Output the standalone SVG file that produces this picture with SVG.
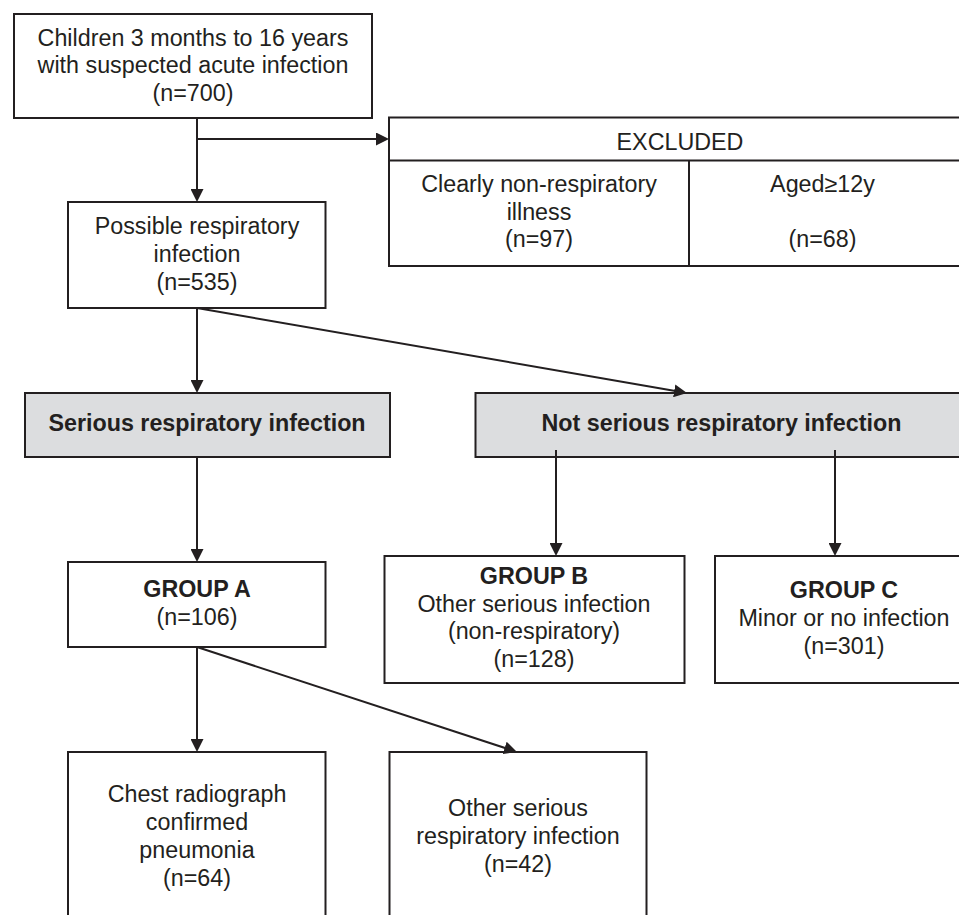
<svg xmlns="http://www.w3.org/2000/svg" width="959" height="915" viewBox="0 0 959 915">
<style>
.box{fill:#ffffff;stroke:#231f20;stroke-width:2}
.grey{fill:#dcdddf;stroke:#231f20;stroke-width:2}
.ln{stroke:#231f20;stroke-width:2;fill:none}
.arr{stroke:#231f20;stroke-width:2;fill:none;marker-end:url(#ah)}
text{font-family:"Liberation Sans",Arial,Helvetica,sans-serif;font-size:23.3px;fill:#231f20;text-anchor:middle}
.b{font-weight:bold}
</style>
<defs>
<marker id="ah" markerUnits="userSpaceOnUse" markerWidth="13" markerHeight="13" refX="7" refY="6.5" orient="auto">
<path d="M0,0 L13,6.5 L0,13 z" fill="#231f20"/>
</marker>
</defs>
<rect width="959" height="915" fill="#ffffff"/>
<g id="start">
<rect class="box" x="14" y="14" width="358" height="104"/>
<text x="193" y="45.5">Children 3 months to 16 years</text>
<text x="193" y="73">with suspected acute infection</text>
<text x="193" y="100.5">(n=700)</text>
</g>
<g id="excluded">
<rect class="box" x="389" y="117.5" width="590" height="148.5"/>
<line class="ln" x1="389" y1="160.5" x2="980" y2="160.5"/>
<line class="ln" x1="689" y1="160.5" x2="689" y2="266"/>
<text x="680" y="150">EXCLUDED</text>
<text x="539" y="192">Clearly non-respiratory</text>
<text x="539" y="219.5">illness</text>
<text x="539" y="247">(n=97)</text>
<text x="822.5" y="192">Aged≥12y</text>
<text x="822.5" y="247">(n=68)</text>
</g>
<g id="possible">
<rect class="box" x="68" y="202" width="257.5" height="106"/>
<text x="197" y="233.5">Possible respiratory</text>
<text x="197" y="261.5">infection</text>
<text x="197" y="289.5">(n=535)</text>
</g>
<g id="serious">
<rect class="grey" x="25" y="393" width="365" height="64"/>
<text class="b" x="207" y="431">Serious respiratory infection</text>
</g>
<g id="notserious">
<rect class="grey" x="475.5" y="393" width="500" height="64"/>
<text class="b" x="721.5" y="431">Not serious respiratory infection</text>
</g>
<g id="groupA">
<rect class="box" x="68" y="562" width="257.5" height="85"/>
<text class="b" x="197" y="596.5">GROUP A</text>
<text x="197" y="625">(n=106)</text>
</g>
<g id="groupB">
<rect class="box" x="384.5" y="556" width="300" height="127"/>
<text class="b" x="534" y="583.5">GROUP B</text>
<text x="534" y="611.5">Other serious infection</text>
<text x="534" y="639">(non-respiratory)</text>
<text x="534" y="667">(n=128)</text>
</g>
<g id="groupC">
<rect class="box" x="715" y="556" width="300" height="127"/>
<text class="b" x="844" y="598">GROUP C</text>
<text x="844" y="626">Minor or no infection</text>
<text x="844" y="654">(n=301)</text>
</g>
<g id="pneumonia">
<rect class="box" x="68" y="752" width="257.5" height="200"/>
<text x="197" y="802">Chest radiograph</text>
<text x="197" y="830">confirmed</text>
<text x="197" y="857.5">pneumonia</text>
<text x="197" y="885.5">(n=64)</text>
</g>
<g id="otherresp">
<rect class="box" x="389.5" y="752" width="257" height="200"/>
<text x="518" y="816">Other serious</text>
<text x="518" y="843.5">respiratory infection</text>
<text x="518" y="871.5">(n=42)</text>
</g>
<g id="connectors">
<line class="arr" x1="197" y1="118" x2="197" y2="196"/>
<line class="arr" x1="197" y1="139" x2="383" y2="139"/>
<line class="arr" x1="197" y1="308" x2="197" y2="387"/>
<line class="arr" x1="197" y1="308" x2="681.1" y2="392"/>
<line class="arr" x1="197" y1="457" x2="197" y2="556"/>
<line class="arr" x1="556" y1="450" x2="556" y2="550"/>
<line class="arr" x1="835" y1="450" x2="835" y2="550"/>
<line class="arr" x1="197" y1="647" x2="197" y2="746"/>
<line class="arr" x1="197" y1="647" x2="511.3" y2="750.1"/>
</g>
</svg>
